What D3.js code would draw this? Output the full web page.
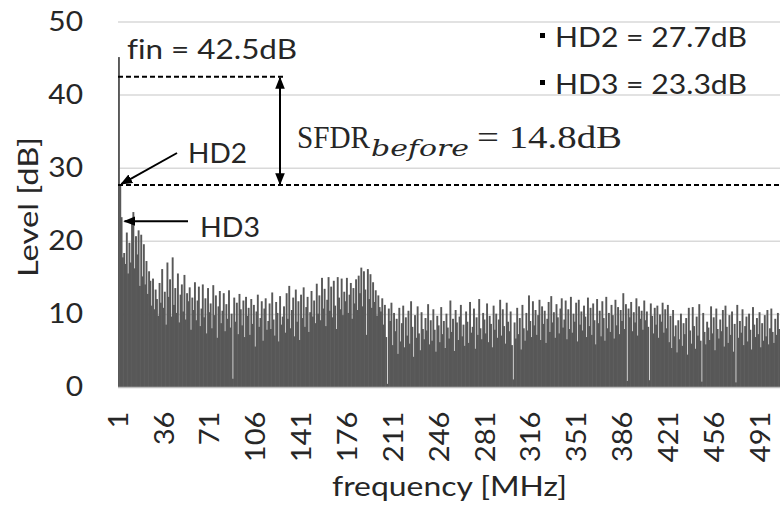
<!DOCTYPE html>
<html>
<head>
<meta charset="utf-8">
<script src="https://cdn.jsdelivr.net/npm/d3@7"></script>
<style>
  body { margin: 0; background: #fff; }
  text { font-family: Lato, "Noto Sans", sans-serif; fill: #262626; }
</style>
</head>
<body>
<div id="chart"></div>
<script>
var width = 780;
var height = 510;
var leftOffset = 118;
var binWidth = 1.31;

// spectrum level per 1 MHz bin (bin 1 = fin)
var levels = [
  45.2, 27.7, 23.3, 17.8, 18.4, 16.9, 21.2, 15.6, 19.8, 17.1, 22.4, 24.0, 16.3, 20.7, 18.2, 21.5, 13.9, 20.9, 15.2, 19.6,
  14.1, 17.3, 12.8, 15.9, 14.6, 11.2, 14.9, 10.7, 13.4, 12.1, 9.8, 14.3, 11.6, 16.2, 10.9, 13.1, 8.6, 17.1, 12.4, 14.8,
  9.7, 17.8, 11.3, 13.6, 10.2, 15.6, 8.9, 12.7, 14.1, 10.4, 15.4, 9.3, 12.9, 11.8, 13.7, 7.9, 12.3, 10.6, 14.4, 9.2,
  11.9, 13.8, 8.4, 10.8, 14.1, 9.6, 12.2, 7.4, 13.6, 10.3, 11.5, 8.1, 14.0, 9.9, 12.6, 6.8, 11.1, 13.2, 8.8, 10.5,
  12.9, 7.7, 11.4, 9.4, 13.3, 8.2, 10.1, 1.2, 12.3, 9.0, 11.6, 7.3, 12.8, 10.7, 8.5, 11.9, 6.9, 12.4, 9.8, 10.9,
  7.2, 12.1, 8.7, 11.3, 5.6, 10.4, 12.7, 8.3, 9.5, 11.8, 6.4, 10.8, 12.2, 7.9, 9.1, 11.5, 8.0, 13.0, 9.3, 7.1,
  11.7, 10.2, 6.3, 12.5, 8.6, 9.7, 11.1, 7.5, 12.9, 9.4, 13.9, 8.1, 10.6, 12.3, 7.0, 13.4, 9.0, 11.8, 6.5, 12.7,
  9.5, 13.7, 8.3, 11.0, 12.4, 7.6, 10.3, 13.2, 9.7, 11.9, 8.8, 14.2, 10.1, 12.6, 9.2, 15.0, 10.8, 13.5, 8.4, 12.0,
  15.1, 10.5, 13.8, 9.6, 14.6, 11.2, 8.0, 15.1, 12.3, 10.7, 14.9, 9.9, 13.1, 11.8, 15.0, 10.2, 12.7, 14.3, 9.4, 13.6,
  11.5, 14.8, 10.6, 15.3, 12.9, 16.4, 11.1, 15.9, 13.4, 7.2, 16.2, 12.1, 15.5, 10.9, 14.4, 11.7, 13.3, 9.8, 12.6, 11.0,
  10.4, 12.2, 8.6, 11.3, 6.9, 0.5, 10.8, 9.1, 11.6, 5.8, 10.2, 7.7, 9.4, 4.6, 10.9, 6.3, 8.8, 11.2, 5.5, 9.6,
  7.1, 10.5, 6.0, 11.8, 8.3, 4.2, 9.9, 6.8, 11.1, 7.4, 5.1, 10.3, 8.0, 6.6, 9.5, 7.8, 11.4, 5.9, 9.2, 6.4,
  10.7, 7.9, 4.9, 9.8, 8.5, 6.2, 11.0, 7.3, 9.1, 5.4, 10.1, 8.2, 6.7, 11.9, 7.6, 9.4, 5.0, 10.6, 8.9, 6.5,
  9.7, 11.3, 7.0, 8.6, 5.7, 10.4, 9.0, 6.1, 11.7, 7.5, 8.3, 10.8, 5.3, 9.6, 7.2, 12.1, 8.1, 6.6, 10.2, 9.3,
  7.4, 11.5, 6.2, 9.8, 8.7, 5.5, 11.2, 7.9, 10.1, 6.8, 9.3, 12.0, 7.1, 10.7, 8.4, 6.0, 11.6, 9.0, 7.7, 10.4,
  5.8, 1.1, 8.9, 6.7, 10.9, 7.3, 9.5, 5.2, 11.3, 8.1, 6.4, 10.2, 7.8, 12.6, 9.1, 6.9, 11.8, 8.5, 10.6, 7.2,
  9.9, 12.0, 6.5, 11.1, 8.7, 10.5, 6.1, 9.4, 11.7, 7.6, 12.5, 8.9, 10.3, 6.8, 11.4, 9.6, 7.4, 10.8, 12.2, 8.2,
  9.3, 11.9, 6.6, 10.7, 8.0, 12.4, 7.5, 10.1, 9.0, 11.6, 6.3, 12.0, 8.6, 10.4, 7.8, 11.2, 9.7, 6.9, 12.3, 8.4,
  10.9, 7.2, 11.5, 9.2, 5.9, 12.1, 8.8, 10.5, 7.0, 11.8, 9.5, 6.4, 12.4, 8.1, 10.2, 7.6, 11.3, 9.9, 6.7, 12.0,
  8.5, 11.0, 7.3, 10.6, 9.1, 12.9, 8.0, 11.4, 0.9, 10.8, 9.6, 11.7, 7.7, 10.3, 8.9, 12.2, 7.1, 11.1, 9.4, 10.5,
  7.9, 11.9, 9.2, 10.4, 8.3, 1.0, 11.5, 9.8, 7.4, 10.9, 8.6, 11.2, 6.8, 10.0, 9.0, 11.6, 7.5, 10.7, 8.1, 11.3,
  6.2, 9.8, 5.4, 10.6, 7.0, 8.5, 4.8, 9.2, 6.6, 10.1, 5.7, 8.8, 7.3, 9.5, 4.5, 10.9, 7.8, 6.0, 11.0, 8.4,
  5.3, 9.7, 7.1, 11.4, 6.4, 0.8, 10.2, 7.6, 5.9, 9.0, 8.2, 6.5, 11.1, 7.4, 9.6, 5.1, 10.8, 8.0, 6.7, 9.3,
  7.7, 10.6, 5.6, 11.2, 8.3, 6.1, 9.9, 7.2, 10.4, 4.9, 8.7, 0.7, 11.3, 6.8, 9.1, 7.5, 10.7, 5.8, 8.4, 9.7,
  6.3, 10.1, 7.9, 5.2, 11.0, 8.6, 6.9, 9.5, 7.3, 10.3, 5.5, 8.8, 6.4, 9.9, 7.0, 10.6, 5.9, 8.1, 10.8, 7.6,
  6.1, 9.4, 7.2, 10.2, 8.0
];
var bins = levels.map(function (d, i) { return i + 1; });

var xTicks = [1, 36, 71, 106, 141, 176, 211, 246, 281, 316, 351, 386, 421, 456, 491];
var yTicks = [0, 10, 20, 30, 40, 50];

var finLevel = 42.5;
var hd2Level = 27.7;
var hd3Level = 23.3;
var sfdr = 14.8;

// the original lettering is a bit wider than Lato
function stretch(sel, k) {
    sel.each(function () {
        var len = this.getComputedTextLength();
        d3.select(this).attr("textLength", len * k).attr("lengthAdjust", "spacingAndGlyphs");
    });
}
function fit(sel, len) {
    sel.attr("textLength", len).attr("lengthAdjust", "spacingAndGlyphs");
}

var svg = d3.select("#chart").append("svg")
    .attr("width", width)
    .attr("height", height);

var xScale = d3.scaleBand()
    .domain(bins)
    .range([leftOffset, leftOffset + bins.length * binWidth])
    .padding(0);

var yScale = d3.scaleLinear()
    .domain([0, 50])
    .range([387.5, 22]);

// arrow heads
var defs = svg.append("defs");
defs.append("marker")
    .attr("id", "head")
    .attr("viewBox", "0 0 10 10")
    .attr("refX", 9).attr("refY", 5)
    .attr("markerWidth", 6).attr("markerHeight", 6)
    .attr("orient", "auto-start-reverse")
    .append("path").attr("d", "M0,1 L10,5 L0,9 z").attr("fill", "#000");

// gridlines
svg.append("g").selectAll("line")
    .data(yTicks.slice(1))
    .enter().append("line")
    .attr("x1", leftOffset).attr("x2", width)
    .attr("y1", function (d) { return yScale(d); })
    .attr("y2", function (d) { return yScale(d); })
    .attr("stroke", "#d9d9d9")
    .attr("stroke-width", 1.5);

// bars (slightly overlapping so the floor reads as a solid dark mass)
svg.append("g").selectAll("rect")
    .data(levels)
    .enter().append("rect")
    .attr("x", function (d, i) { return xScale(i + 1); })
    .attr("y", function (d) { return yScale(d); })
    .attr("width", xScale.bandwidth() + 0.6)
    .attr("height", function (d) { return yScale(0) - yScale(d); })
    .attr("fill", "#585858");

// baseline
svg.append("line")
    .attr("x1", leftOffset).attr("x2", width)
    .attr("y1", yScale(0)).attr("y2", yScale(0))
    .attr("stroke", "#bfbfbf").attr("stroke-width", 1.5);

// axes
var xAxis = d3.axisBottom(xScale).tickValues(xTicks).tickSize(0);
var gx = svg.append("g")
    .attr("transform", "translate(0," + yScale(0) + ")")
    .call(xAxis);
gx.select(".domain").remove();
gx.selectAll("text")
    .attr("transform", "rotate(-90)")
    .attr("x", -24).attr("y", 0)
    .attr("dy", "0.35em")
    .style("text-anchor", "end")
    .style("font-size", "26px")
    .style("font-family", "Lato")
    .attr("fill", "#262626")
    .call(stretch, 1.12);

var yAxis = d3.axisLeft(yScale).tickValues(yTicks).tickSize(0).tickPadding(35);
var gy = svg.append("g")
    .attr("transform", "translate(" + leftOffset + ",0)")
    .call(yAxis);
gy.select(".domain").remove();
gy.selectAll("text")
    .style("font-size", "26px")
    .style("font-family", "Lato")
    .attr("fill", "#262626")
    .call(stretch, 1.15);

svg.append("text")
    .attr("transform", "translate(38,207) rotate(-90)")
    .style("text-anchor", "middle")
    .style("font-size", "26px")
    .text("Level [dB]")
    .call(fit, 140);

svg.append("text")
    .attr("x", 449.5).attr("y", 496)
    .style("text-anchor", "middle")
    .style("font-size", "27px")
    .text("frequency [MHz]")
    .call(fit, 235);

// annotations
var dash = "5,3";
svg.append("line")
    .attr("x1", leftOffset).attr("x2", 286)
    .attr("y1", yScale(finLevel)).attr("y2", yScale(finLevel))
    .attr("stroke", "#000").attr("stroke-width", 2).attr("stroke-dasharray", dash);
svg.append("line")
    .attr("x1", leftOffset).attr("x2", width)
    .attr("y1", yScale(hd2Level)).attr("y2", yScale(hd2Level))
    .attr("stroke", "#000").attr("stroke-width", 2).attr("stroke-dasharray", dash);

svg.append("line")
    .attr("x1", 280).attr("x2", 280)
    .attr("y1", yScale(finLevel) + 1).attr("y2", yScale(hd2Level) - 1)
    .attr("stroke", "#000").attr("stroke-width", 2)
    .attr("marker-start", "url(#head)")
    .attr("marker-end", "url(#head)");

svg.append("text")
    .attr("x", 127).attr("y", 59)
    .style("font-size", "27px")
    .style("font-variant-ligatures", "none")
    .attr("fill", "#000")
    .text("fin = " + finLevel + "dB")
    .call(fit, 170);

svg.append("line")
    .attr("x1", 177).attr("y1", 153)
    .attr("x2", xScale(2) + 2).attr("y2", yScale(hd2Level) - 1)
    .attr("stroke", "#000").attr("stroke-width", 2)
    .attr("marker-end", "url(#head)");
svg.append("text")
    .attr("x", 188).attr("y", 163)
    .style("font-size", "27px")
    .attr("fill", "#000")
    .text("HD2")
    .call(fit, 59);

svg.append("line")
    .attr("x1", 188).attr("y1", yScale(hd3Level) + 4)
    .attr("x2", xScale(6)).attr("y2", yScale(hd3Level) + 4)
    .attr("stroke", "#000").attr("stroke-width", 2)
    .attr("marker-end", "url(#head)");
svg.append("text")
    .attr("x", 200).attr("y", 237)
    .style("font-size", "27px")
    .attr("fill", "#000")
    .text("HD3")
    .call(fit, 60);

var sf = svg.append("text")
    .attr("y", 148)
    .style("font-family", "'Liberation Serif', serif")
    .style("font-size", "31px")
    .attr("fill", "#000");
sf.append("tspan").attr("x", 297).text("SFDR")
    .call(fit, 73);
sf.append("tspan")
    .attr("x", 371)
    .attr("dy", 8)
    .style("font-family", "'DejaVu Serif', serif")
    .style("font-style", "italic")
    .style("font-size", "23px")
    .text("before")
    .call(fit, 98);
sf.append("tspan")
    .attr("x", 477)
    .attr("dy", -8)
    .text("= " + sfdr + "dB")
    .call(fit, 145);

var legend = [["HD2", hd2Level], ["HD3", hd3Level]];
legend.forEach(function (d, i) {
    var y = 47 + i * 47;
    svg.append("rect")
        .attr("x", 540).attr("y", y - 14)
        .attr("width", 5).attr("height", 5)
        .attr("fill", "#000");
    svg.append("text")
        .attr("x", 555).attr("y", y)
        .style("font-size", "27px")
        .attr("fill", "#000")
        .text(d[0] + " = " + d[1] + "dB")
        .call(fit, 192);
});
</script>
</body>
</html>
